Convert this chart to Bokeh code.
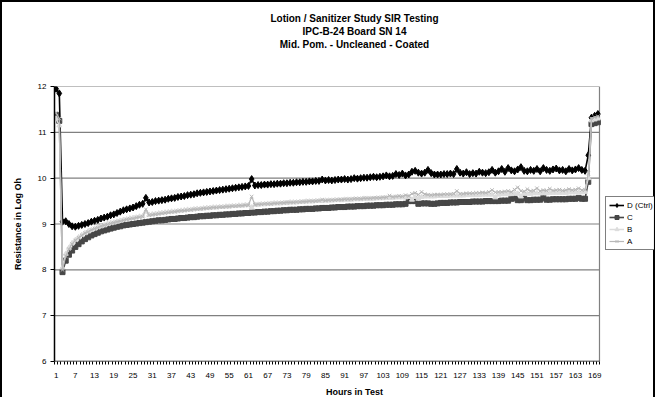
from bokeh.plotting import figure
from bokeh.models import Range1d, FixedTicker, Legend, LegendItem, Title
from bokeh.embed import file_html
from bokeh.resources import INLINE

hours = list(range(1, 171))
x_tick_labels = list(range(1, 170, 6))
y_ticks = [6, 7, 8, 9, 10, 11, 12]

d_ctrl = [
    11.95, 11.85, 9.05, 9.06, 9.00, 8.95, 8.94, 8.96, 8.98, 9.00,
    9.02, 9.05, 9.07, 9.09, 9.12, 9.14, 9.16, 9.19, 9.21, 9.24,
    9.27, 9.30, 9.32, 9.34, 9.36, 9.39, 9.42, 9.44, 9.57, 9.47,
    9.48, 9.50, 9.51, 9.52, 9.53, 9.55, 9.56, 9.57, 9.59, 9.60,
    9.61, 9.63, 9.64, 9.65, 9.67, 9.68, 9.69, 9.70, 9.71, 9.72,
    9.73, 9.74, 9.75, 9.76, 9.77, 9.78, 9.79, 9.80, 9.81, 9.82,
    9.83, 9.98, 9.84, 9.85, 9.85, 9.86, 9.86, 9.87, 9.87, 9.88,
    9.88, 9.89, 9.89, 9.90, 9.90, 9.91, 9.91, 9.92, 9.92, 9.93,
    9.93, 9.94, 9.94, 9.97, 9.95, 9.96, 9.95, 9.96, 9.97, 9.97,
    9.98, 9.97, 9.98, 10.00, 9.99, 10.00, 10.01, 10.01, 10.02, 10.03,
    10.02, 10.03, 10.04, 10.06, 10.04, 10.05, 10.09, 10.07, 10.10, 10.06,
    10.08, 10.14, 10.16, 10.12, 10.10, 10.12, 10.18, 10.11, 10.08, 10.08,
    10.08, 10.09, 10.09, 10.10, 10.09, 10.20, 10.12, 10.10, 10.13, 10.09,
    10.11, 10.10, 10.14, 10.12, 10.11, 10.13, 10.18, 10.12, 10.15, 10.20,
    10.14, 10.22, 10.17, 10.15, 10.19, 10.24, 10.16, 10.15, 10.18, 10.16,
    10.20, 10.15, 10.22, 10.18, 10.16, 10.19, 10.21, 10.17, 10.18, 10.15,
    10.20, 10.17, 10.19, 10.22, 10.18, 10.16, 10.50, 11.32, 11.36, 11.40,
]

c_vals = [
    11.38, 11.25, 7.95, 8.20, 8.33, 8.42, 8.50, 8.56, 8.62, 8.67,
    8.71, 8.75, 8.78, 8.81, 8.84, 8.86, 8.88, 8.90, 8.92, 8.94,
    8.95, 8.97, 8.98, 8.99, 9.00, 9.01, 9.02, 9.03, 9.04, 9.05,
    9.06, 9.07, 9.08, 9.08, 9.09, 9.10, 9.11, 9.11, 9.12, 9.13,
    9.13, 9.14, 9.15, 9.15, 9.16, 9.17, 9.17, 9.18, 9.18, 9.19,
    9.19, 9.20, 9.20, 9.21, 9.21, 9.22, 9.22, 9.23, 9.23, 9.24,
    9.24, 9.25, 9.25, 9.26, 9.26, 9.27, 9.27, 9.28, 9.28, 9.29,
    9.29, 9.30, 9.30, 9.31, 9.31, 9.31, 9.32, 9.32, 9.33, 9.33,
    9.33, 9.34, 9.34, 9.35, 9.35, 9.35, 9.36, 9.36, 9.37, 9.37,
    9.37, 9.38, 9.38, 9.38, 9.39, 9.39, 9.39, 9.40, 9.40, 9.40,
    9.41, 9.41, 9.41, 9.42, 9.42, 9.42, 9.43, 9.43, 9.43, 9.44,
    9.50, 9.50, 9.50, 9.44, 9.45, 9.45, 9.45, 9.44, 9.44, 9.45,
    9.46, 9.46, 9.46, 9.47, 9.47, 9.47, 9.48, 9.48, 9.48, 9.48,
    9.49, 9.49, 9.49, 9.49, 9.50, 9.50, 9.50, 9.50, 9.50, 9.51,
    9.51, 9.51, 9.55, 9.56, 9.52, 9.52, 9.56, 9.52, 9.52, 9.53,
    9.53, 9.53, 9.57, 9.53, 9.53, 9.54, 9.54, 9.54, 9.54, 9.54,
    9.55, 9.55, 9.55, 9.57, 9.55, 9.55, 9.92, 11.18, 11.20, 11.22,
]

b_vals = [
    11.30, 11.15, 8.05, 8.35, 8.48, 8.58, 8.65, 8.71, 8.76, 8.80,
    8.84, 8.87, 8.90, 8.93, 8.95, 8.97, 9.00, 9.02, 9.03, 9.05,
    9.07, 9.09, 9.10, 9.12, 9.13, 9.14, 9.16, 9.17, 9.27, 9.20,
    9.21, 9.22, 9.23, 9.24, 9.25, 9.26, 9.27, 9.27, 9.28, 9.29,
    9.30, 9.31, 9.31, 9.32, 9.33, 9.33, 9.34, 9.35, 9.35, 9.36,
    9.36, 9.37, 9.37, 9.38, 9.38, 9.39, 9.39, 9.40, 9.40, 9.41,
    9.41, 9.36, 9.42, 9.42, 9.43, 9.43, 9.44, 9.44, 9.45, 9.45,
    9.45, 9.46, 9.46, 9.47, 9.47, 9.47, 9.48, 9.48, 9.49, 9.49,
    9.49, 9.50, 9.50, 9.50, 9.51, 9.51, 9.51, 9.52, 9.52, 9.52,
    9.53, 9.53, 9.53, 9.54, 9.54, 9.54, 9.55, 9.55, 9.55, 9.55,
    9.56, 9.56, 9.56, 9.57, 9.57, 9.57, 9.58, 9.58, 9.58, 9.58,
    9.59, 9.53, 9.59, 9.55, 9.59, 9.60, 9.60, 9.60, 9.60, 9.61,
    9.61, 9.61, 9.61, 9.62, 9.62, 9.62, 9.62, 9.62, 9.63, 9.63,
    9.63, 9.63, 9.63, 9.64, 9.64, 9.64, 9.64, 9.58, 9.64, 9.65,
    9.65, 9.65, 9.65, 9.66, 9.66, 9.60, 9.66, 9.66, 9.66, 9.67,
    9.67, 9.67, 9.67, 9.67, 9.68, 9.68, 9.68, 9.68, 9.68, 9.68,
    9.69, 9.69, 9.69, 9.69, 9.69, 9.70, 10.00, 11.26, 11.28, 11.30,
]

a_vals = [
    11.42, 11.30, 8.00, 8.30, 8.45, 8.56, 8.64, 8.70, 8.75, 8.80,
    8.83, 8.87, 8.90, 8.92, 8.95, 8.97, 8.99, 9.01, 9.03, 9.05,
    9.06, 9.08, 9.10, 9.11, 9.12, 9.14, 9.15, 9.16, 9.32, 9.19,
    9.20, 9.21, 9.22, 9.23, 9.24, 9.25, 9.26, 9.27, 9.28, 9.29,
    9.29, 9.30, 9.31, 9.32, 9.32, 9.33, 9.34, 9.34, 9.35, 9.36,
    9.36, 9.37, 9.37, 9.38, 9.38, 9.39, 9.39, 9.40, 9.40, 9.41,
    9.41, 9.60, 9.42, 9.43, 9.43, 9.44, 9.44, 9.44, 9.45, 9.45,
    9.46, 9.46, 9.47, 9.47, 9.47, 9.48, 9.48, 9.49, 9.49, 9.50,
    9.50, 9.50, 9.51, 9.53, 9.51, 9.52, 9.52, 9.52, 9.53, 9.53,
    9.54, 9.54, 9.54, 9.55, 9.55, 9.55, 9.56, 9.56, 9.56, 9.57,
    9.57, 9.57, 9.58, 9.58, 9.62, 9.59, 9.60, 9.61, 9.60, 9.63,
    9.61, 9.66, 9.68, 9.64, 9.70, 9.65, 9.64, 9.63, 9.64, 9.64,
    9.64, 9.65, 9.65, 9.65, 9.66, 9.72, 9.66, 9.66, 9.67, 9.67,
    9.67, 9.68, 9.68, 9.69, 9.68, 9.70, 9.74, 9.69, 9.70, 9.70,
    9.71, 9.72, 9.70, 9.75, 9.80, 9.72, 9.71, 9.76, 9.72, 9.73,
    9.78, 9.72, 9.74, 9.73, 9.77, 9.73, 9.74, 9.75, 9.73, 9.74,
    9.76, 9.74, 9.75, 9.78, 9.74, 9.75, 10.10, 11.30, 11.33, 11.35,
]

FONT = "Liberation Sans"
x_lo = 0.5
x_hi = len(hours) + 0.5          # end of the category axis
x_view = 187.66                  # frame extended to the right to host the legend

p = figure(width=655, height=397, output_backend="svg", toolbar_location=None,
           x_range=Range1d(x_lo, x_view), y_range=Range1d(y_ticks[0], y_ticks[-1]),
           title="Lotion / Sanitizer Study SIR Testing",
           min_border_left=52, min_border_right=3, min_border_top=84, min_border_bottom=37)
p.styles = {"border-left": "2px solid black", "border-top": "2px solid black",
            "border-right": "2px solid black", "box-sizing": "border-box"}

tkw = dict(align="center", text_font=FONT, text_font_size="10px", text_font_style="bold",
           text_color="black")
p.title.align = "center"
p.title.text_font = FONT
p.title.text_font_size = "10px"
p.title.text_font_style = "bold"
p.title.text_color = "black"
p.title.standoff = 0
# first added = closest to the frame
p.add_layout(Title(text=" ", standoff=24, **tkw), "above")
p.add_layout(Title(text="Mid. Pom. - Uncleaned - Coated", standoff=0, **tkw), "above")
p.add_layout(Title(text="IPC-B-24 Board SN 14", standoff=0, **tkw), "above")

p.background_fill_color = "white"
p.border_fill_color = "white"
p.outline_line_color = None
p.xgrid.visible = False
p.ygrid.visible = False

# horizontal gridlines and right edge of the plot area, limited to the category span
gy = y_ticks[1:]
p.segment(x0=[x_lo] * len(gy), x1=[x_hi] * len(gy), y0=gy, y1=gy,
          line_color="#808080", line_width=1.2)
p.segment(x0=[x_hi], x1=[x_hi], y0=[y_ticks[0]], y1=[y_ticks[-1]],
          line_color="#808080", line_width=1.2)
p.segment(x0=[x_lo], x1=[x_hi], y0=[y_ticks[0]], y1=[y_ticks[0]],
          line_color="black", line_width=1.5)

xa = p.xaxis[0]
xa.ticker = FixedTicker(ticks=x_tick_labels, minor_ticks=[h - 0.5 for h in hours] + [x_hi])
xa.axis_line_color = None
xa.major_tick_in = 0
xa.major_tick_out = 0
xa.minor_tick_in = 0
xa.minor_tick_out = 3
xa.minor_tick_line_color = "black"
xa.major_label_standoff = 8
xa.major_label_text_font = FONT
xa.major_label_text_font_size = "8px"
xa.major_label_text_color = "black"
xa.axis_label = "Hours in Test"
xa.axis_label_text_font = FONT
xa.axis_label_text_font_size = "9px"
xa.axis_label_text_font_style = "bold"
xa.axis_label_text_color = "black"
xa.axis_label_standoff = 6

ya = p.yaxis[0]
ya.ticker = FixedTicker(ticks=y_ticks)
ya.minor_tick_line_color = None
ya.major_tick_in = 0
ya.major_tick_out = 4
ya.axis_line_color = "black"
ya.axis_line_width = 1.5
ya.major_label_text_font = FONT
ya.major_label_text_font_size = "8px"
ya.major_label_text_color = "black"
ya.major_label_standoff = 4
ya.axis_label = "Resistance in Log Oh"
ya.axis_label_text_font = FONT
ya.axis_label_text_font_size = "9px"
ya.axis_label_text_font_style = "bold"
ya.axis_label_text_color = "black"
ya.axis_label_standoff = 12

series = [
    ("D (Ctrl)", d_ctrl, "black", "diamond", 7, 1.6),
    ("C", c_vals, "#474747", "square", 5, 1.6),
    ("B", b_vals, "#dcdcdc", "triangle", 5, 1.5),
    ("A", a_vals, "#b8b8b8", "x", 5, 1.2),
]

items = []
for name, vals, col, mk, sz, lw in series:
    ln = p.line(hours, vals, line_color=col, line_width=lw)
    sc = p.scatter(hours, vals, marker=mk, size=sz, fill_color=col, line_color=col)
    items.append(LegendItem(label=name, renderers=[ln, sc]))

legend = Legend(items=items, location=(551, 111), orientation="vertical")
legend.border_line_color = "black"
legend.border_line_width = 1
legend.background_fill_color = "white"
legend.label_text_font = FONT
legend.label_text_font_size = "8px"
legend.label_text_color = "black"
legend.glyph_width = 15
legend.glyph_height = 10
legend.label_height = 10
legend.label_standoff = 3
legend.spacing = 2
legend.padding = 3
legend.margin = 0
p.add_layout(legend)

open("out.html", "w").write(file_html(p, INLINE))
